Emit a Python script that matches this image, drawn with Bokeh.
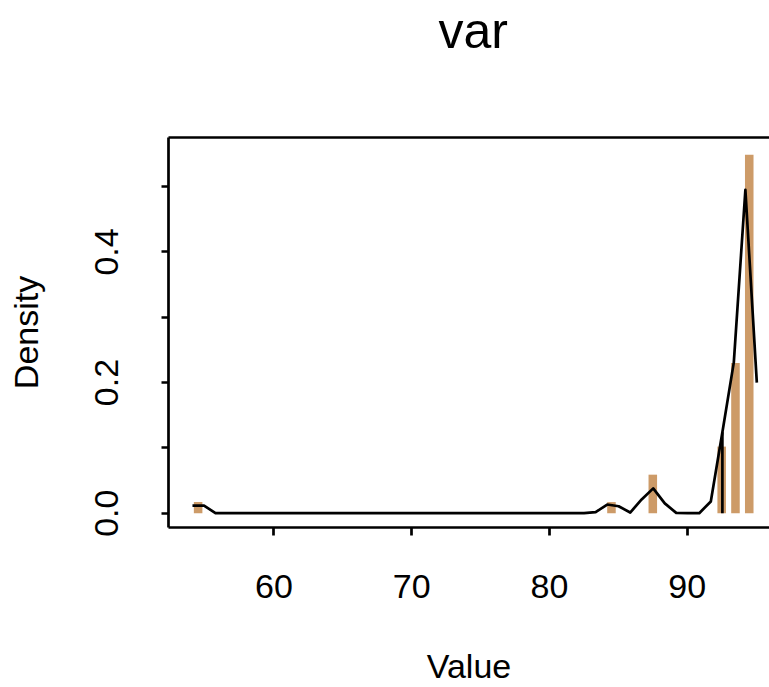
from bokeh.plotting import figure
from bokeh.models import Range1d, LinearAxis, FixedTicker
from bokeh.embed import file_html
from bokeh.resources import INLINE

# ---- data ----
bar_x = [54.5, 84.5, 87.5, 92.5, 93.5, 94.5]
bar_h = [0.017, 0.017, 0.059, 0.102, 0.230, 0.549]

dens_x = [54.09, 54.93, 55.76, 56.60, 57.43, 58.27, 59.11, 59.94, 60.78, 61.61,
          62.45, 63.29, 64.12, 64.96, 65.79, 66.63, 67.47, 68.30, 69.14, 69.97,
          70.81, 71.65, 72.48, 73.32, 74.15, 74.99, 75.83, 76.66, 77.50, 78.33,
          79.17, 80.01, 80.84, 81.68, 82.51, 83.35, 84.19, 85.02, 85.86, 86.69,
          87.53, 88.37, 89.20, 90.04, 90.87, 91.71, 92.55, 93.38, 94.22, 95.05]
dens_y = [0.0117, 0.0117, 0.0, 0.0, 0.0, 0.0, 0.0, 0.0, 0.0, 0.0,
          0.0, 0.0, 0.0, 0.0, 0.0, 0.0, 0.0, 0.0, 0.0, 0.0,
          0.0, 0.0, 0.0, 0.0, 0.0, 0.0, 0.0, 0.0, 0.0, 0.0,
          0.0, 0.0, 0.0, 0.0, 0.0, 0.0015, 0.0133, 0.0107, 0.001, 0.021,
          0.038, 0.015, 0.0005, 0.0, 0.0, 0.018, 0.124, 0.231, 0.495, 0.200]

marker_x = [92.55]
marker_y = [0.124]

x_ticks = [60, 70, 80, 90]
y_ticks = [0.0, 0.1, 0.2, 0.3, 0.4, 0.5]
y_tick_labels = {0.0: "0.0", 0.1: "", 0.2: "0.2", 0.3: "", 0.4: "0.4", 0.5: ""}

title_text = "var"
x_label = "Value"
y_label = "Density"

FONT = "Liberation Sans"
BAR_COLOR = "#CD9B68"
LW = 2.7
FS = "34px"

p = figure(width=769, height=687, output_backend="svg", toolbar_location=None,
           x_range=Range1d(52.35, 95.97), y_range=Range1d(-0.0219, 0.5753),
           min_border_left=168, min_border_right=0, min_border_top=137,
           min_border_bottom=160)
p.outline_line_color = None
p.xgrid.visible = False
p.ygrid.visible = False
p.background_fill_color = "white"
p.border_fill_color = "white"

# title
p.title.text = title_text
p.title.text_font = FONT
p.title.text_font_size = "50px"
p.title.text_font_style = "normal"
p.title.text_color = "black"
p.title.align = "left"
p.title.vertical_align = "bottom"
p.title.offset = 270
p.title.standoff = 0

# bars and density
p.vbar(x=bar_x, top=bar_h, bottom=0, width=0.62, color=BAR_COLOR, line_color=None)
p.line(dens_x, dens_y, line_color="black", line_width=LW, line_join="round")
p.segment(x0=marker_x, y0=[0] * len(marker_x), x1=marker_x, y1=marker_y,
          line_color="black", line_width=LW)

# axes
for ax in (p.xaxis[0], p.yaxis[0]):
    ax.axis_line_width = LW
    ax.axis_line_color = "black"
    ax.major_tick_line_width = LW
    ax.major_tick_in = 0
    ax.minor_tick_line_color = None
    ax.major_label_text_font = FONT
    ax.major_label_text_font_size = FS
    ax.major_label_text_color = "black"
    ax.axis_label_text_font = FONT
    ax.axis_label_text_font_size = FS
    ax.axis_label_text_font_style = "normal"
    ax.axis_label_text_color = "black"

p.xaxis[0].ticker = FixedTicker(ticks=x_ticks)
p.xaxis[0].major_tick_out = 8
p.xaxis[0].major_label_standoff = 39
p.xaxis[0].axis_label = x_label
p.xaxis[0].axis_label_standoff = 46

p.yaxis[0].ticker = FixedTicker(ticks=y_ticks)
p.yaxis[0].major_tick_out = 7
p.yaxis[0].major_label_overrides = y_tick_labels
p.yaxis[0].major_label_orientation = "vertical"
p.yaxis[0].axis_label = y_label
p.yaxis[0].major_label_standoff = 43
p.yaxis[0].axis_label_standoff = 48

# top border of the box; a blank axis label spaces the title upwards
top_axis = LinearAxis(ticker=FixedTicker(ticks=[]), axis_line_width=LW,
                      axis_line_color="black", major_tick_line_color=None,
                      major_tick_out=0, major_tick_in=0,
                      minor_tick_line_color=None, major_label_text_font_size="0px",
                      axis_label=" ", axis_label_text_font_size="1px",
                      axis_label_standoff=75)
p.add_layout(top_axis, "above")

open("out.html", "w").write(file_html(p, INLINE))
